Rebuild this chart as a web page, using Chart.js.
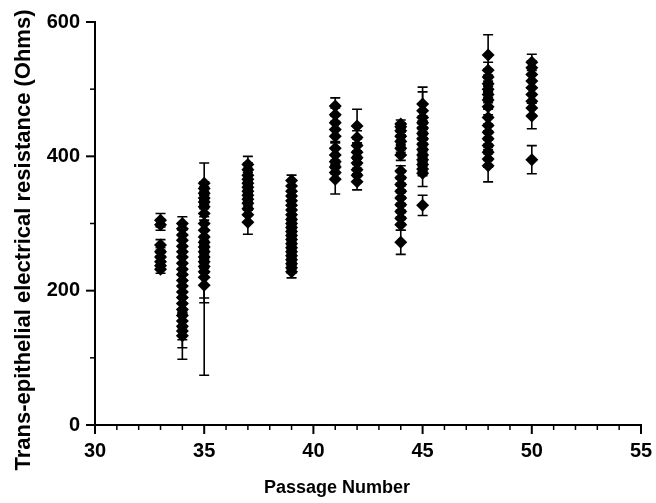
<!DOCTYPE html>
<html>
<head>
<meta charset="utf-8">
<script src="https://cdn.jsdelivr.net/npm/chart.js@4.4.1/dist/chart.umd.min.js"></script>
<style>
  body { margin: 0; background: #fff; }
  canvas { display: block; }
</style>
</head>
<body>
<canvas id="resistenciaChart" width="656" height="503"></canvas>
<script>
// Datos: resistencia (Ohms) por numero de pasaje
const pasajes = [33, 34, 35, 37, 39, 41, 42, 44, 45, 48, 50];

const p33 = [305, 298, 268, 258, 250, 243, 237, 232];
const p33Err = [10, 8, 8, 6, 6, 6, 6, 6];

const p34 = [300, 292, 283, 275, 266, 258, 250, 241, 232, 224, 215, 207, 198, 190, 181, 172, 163, 155, 147, 140, 133];
const p34Err = [10, 8, 8, 8, 8, 8, 8, 8, 8, 8, 8, 8, 8, 8, 8, 8, 8, 10, 20, 25, 35];

const p35 = [360, 352, 345, 338, 332, 325, 315, 300, 290, 280, 272, 265, 258, 250, 243, 236, 228, 220, 208];
const p35Err = [30, 10, 10, 10, 10, 10, 10, 10, 10, 10, 10, 10, 10, 10, 10, 10, 39, 38, 134];

const p37 = [388, 380, 372, 366, 360, 354, 348, 342, 336, 330, 322, 313, 302];
const p37Err = [12, 10, 10, 10, 10, 10, 10, 10, 10, 10, 10, 10, 18];

const p39 = [364, 356, 348, 341, 334, 327, 320, 313, 306, 300, 294, 288, 282, 276, 270, 264, 258, 252, 246, 240, 234, 228];
const p39Err = [8, 8, 8, 8, 8, 8, 8, 8, 8, 8, 8, 8, 8, 8, 8, 8, 8, 8, 8, 8, 8, 9];

const p41 = [475, 462, 450, 440, 430, 412, 402, 392, 384, 376, 366];
const p41Err = [12, 10, 10, 10, 10, 10, 10, 10, 10, 10, 22];

const p42 = [445, 428, 416, 406, 398, 390, 380, 372, 362];
const p42Err = [25, 10, 10, 10, 10, 10, 10, 10, 12];

const p44 = [448, 444, 438, 430, 422, 412, 402, 378, 368, 358, 348, 338, 328, 318, 308, 298, 272];
const p44Err = [6, 6, 6, 6, 6, 6, 8, 8, 8, 8, 8, 8, 8, 8, 8, 8, 18];

const p45 = [478, 468, 458, 450, 442, 434, 426, 418, 410, 402, 395, 388, 381, 375, 327];
const p45Err = [25, 28, 10, 10, 10, 10, 10, 10, 10, 10, 10, 10, 10, 20, 15];

const p48 = [551, 528, 518, 508, 500, 492, 484, 474, 458, 446, 436, 426, 416, 406, 396, 386];
const p48Err = [30, 12, 12, 12, 12, 12, 12, 12, 12, 12, 12, 12, 12, 12, 12, 24];

const p50 = [540, 532, 522, 512, 502, 492, 482, 472, 460, 395];
const p50Err = [12, 10, 10, 10, 10, 10, 10, 10, 19, 21];

const valores = [p33, p34, p35, p37, p39, p41, p42, p44, p45, p48, p50];
const errores = [p33Err, p34Err, p35Err, p37Err, p39Err, p41Err, p42Err, p44Err, p45Err, p48Err, p50Err];

const ticksX = [30, 35, 40, 45, 50, 55];
const ticksY = [0, 200, 400, 600];

const tituloX = 'Passage Number';
const tituloY = 'Trans-epithelial electrical resistance (Ohms)';

// un punto por medicion, con su error
const puntos = [];
pasajes.forEach((pasaje, i) => {
    valores[i].forEach((v, j) => {
        puntos.push({ x: pasaje, y: v, err: errores[i][j] });
    });
});

const fuente = 'Arial, "Liberation Sans", Helvetica, sans-serif';

// Barras de error (debajo de los rombos)
const barrasError = {
    id: 'barrasError',
    beforeDatasetsDraw(chart) {
        const ctx = chart.ctx;
        const sx = chart.scales.x;
        const sy = chart.scales.y;
        ctx.save();
        ctx.strokeStyle = '#000';
        ctx.lineWidth = 1.6;
        chart.data.datasets[0].data.forEach(p => {
            const px = sx.getPixelForValue(p.x);
            const arriba = sy.getPixelForValue(p.y + p.err);
            const abajo = sy.getPixelForValue(p.y - p.err);
            ctx.beginPath();
            ctx.moveTo(px, arriba);
            ctx.lineTo(px, abajo);
            ctx.moveTo(px - 5, arriba);
            ctx.lineTo(px + 5, arriba);
            ctx.moveTo(px - 5, abajo);
            ctx.lineTo(px + 5, abajo);
            ctx.stroke();
        });
        ctx.restore();
    }
};

// Marcas de los ejes hacia afuera, mayores y menores, y titulos
const marcasEjes = {
    id: 'marcasEjes',
    afterDraw(chart) {
        const ctx = chart.ctx;
        const sx = chart.scales.x;
        const sy = chart.scales.y;
        const area = chart.chartArea;
        ctx.save();
        ctx.strokeStyle = '#000';
        for (let v = sx.min; v <= sx.max; v++) {
            const mayor = v % 5 === 0;
            const px = sx.getPixelForValue(v);
            ctx.lineWidth = mayor ? 2 : 1.5;
            ctx.beginPath();
            ctx.moveTo(px, area.bottom);
            ctx.lineTo(px, area.bottom + (mayor ? 9 : 5));
            ctx.stroke();
        }
        for (let v = sy.min; v <= sy.max; v += 100) {
            const mayor = v % 200 === 0;
            const py = sy.getPixelForValue(v);
            ctx.lineWidth = mayor ? 2 : 1.5;
            ctx.beginPath();
            ctx.moveTo(area.left, py);
            ctx.lineTo(area.left - (mayor ? 9 : 5), py);
            ctx.stroke();
        }

        // titulos (en la figura no van centrados en el area)
        ctx.fillStyle = '#000';
        ctx.textAlign = 'center';
        ctx.textBaseline = 'middle';
        ctx.font = 'bold 18px ' + fuente;
        ctx.fillText(tituloX, 337, 488);
        ctx.translate(24, 240);
        ctx.rotate(-Math.PI / 2);
        ctx.font = 'bold 22px ' + fuente;
        ctx.fillText(tituloY, 0, 0);
        ctx.restore();
    }
};

const ctx = document.getElementById('resistenciaChart').getContext('2d');
new Chart(ctx, {
    type: 'scatter',
    data: {
        datasets: [{
            data: puntos,
            pointStyle: 'rectRot',
            pointRadius: 6.5,
            pointHoverRadius: 6.5,
            backgroundColor: '#000',
            borderColor: '#000',
            borderWidth: 0
        }]
    },
    options: {
        responsive: false,
        animation: false,
        layout: { padding: { top: 22, right: 15, left: 0, bottom: 0 } },
        plugins: {
            legend: { display: false },
            tooltip: { enabled: false }
        },
        scales: {
            x: {
                type: 'linear',
                min: 30,
                max: 55,
                afterBuildTicks: s => { s.ticks = ticksX.map(v => ({ value: v })); },
                afterFit: s => {
                    s.height = 78;
                    s.paddingLeft = 0;
                    s.paddingRight = 0;
                },
                grid: { display: false, drawTicks: false },
                border: { display: true, color: '#000', width: 2 },
                ticks: { color: '#000', padding: 14, font: { family: fuente, size: 20, weight: 'bold' } }
            },
            y: {
                type: 'linear',
                min: 0,
                max: 600,
                afterBuildTicks: s => { s.ticks = ticksY.map(v => ({ value: v })); },
                afterFit: s => {
                    s.width = 95;
                    s.paddingTop = 0;
                    s.paddingBottom = 0;
                },
                grid: { display: false, drawTicks: false },
                border: { display: true, color: '#000', width: 2 },
                ticks: { color: '#000', padding: 15, font: { family: fuente, size: 20, weight: 'bold' } }
            }
        }
    },
    plugins: [barrasError, marcasEjes]
});
</script>
</body>
</html>
